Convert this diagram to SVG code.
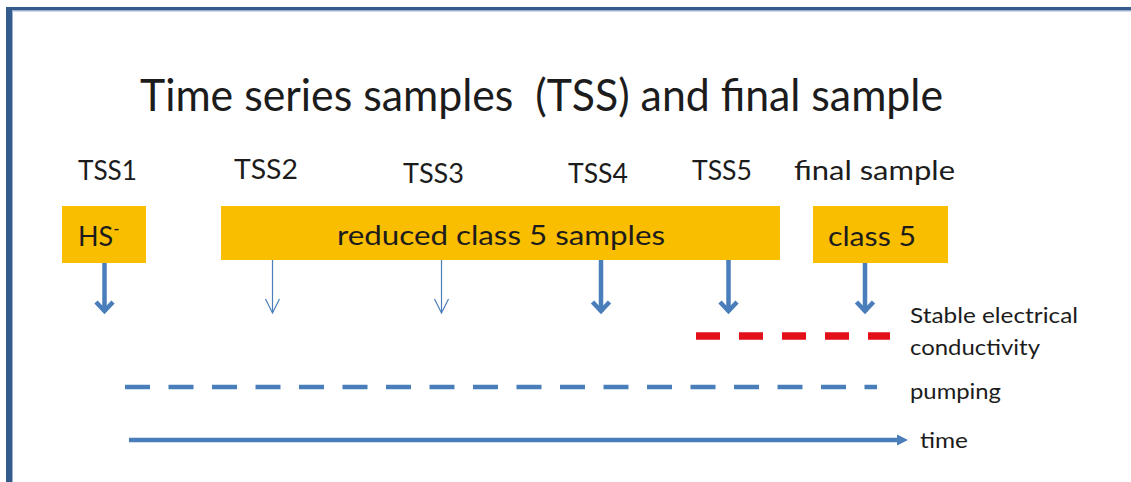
<svg xmlns="http://www.w3.org/2000/svg" width="1131" height="482" viewBox="0 0 1131 482">
  <style>
    .txt { font-family: Lato, "Open Sans", "Liberation Sans", sans-serif; fill: #1c1c1c; }
    .title { font-size: 44px; }
    .lbl { font-size: 27px; }
    .side { font-size: 22px; }
    .box { fill: #f9be00; }
    .thick { stroke: #4a7ebb; stroke-width: 4.5; fill: none; }
    .thin { stroke: #4a7ebb; stroke-width: 1.2; fill: none; }
  </style>
  <defs>
    <marker id="headThick" viewBox="-12 -12 14 24" markerWidth="14" markerHeight="24" refX="0" refY="0" orient="auto" markerUnits="userSpaceOnUse">
      <path d="M-10,-8.5 L-1,0 L-10,8.5" fill="none" stroke="#4a7ebb" stroke-width="4.5"/>
    </marker>
    <marker id="headThin" viewBox="-16 -9 18 18" markerWidth="18" markerHeight="18" refX="0" refY="0" orient="auto" markerUnits="userSpaceOnUse">
      <path d="M-14,-7 L0,0 L-14,7" fill="none" stroke="#4a7ebb" stroke-width="1.2"/>
    </marker>
    <marker id="headSolid" viewBox="0 -6 12 12" markerWidth="12" markerHeight="12" refX="0" refY="0" orient="auto" markerUnits="userSpaceOnUse">
      <path d="M0,-5.5 L11,0 L0,5.5 Z" fill="#4a7ebb"/>
    </marker>
  </defs>

  <rect width="1131" height="482" fill="#ffffff"/>

  <!-- slide frame -->
  <g id="frame">
    <rect x="6" y="7" width="1125" height="3.5" fill="#355b8c"/>
    <rect x="6" y="7" width="6" height="475" fill="#355b8c"/>
    <rect x="12" y="10.5" width="1119" height="1" fill="#9fb3cf"/>
    <rect x="12" y="10.5" width="1" height="472" fill="#9fb3cf"/>
  </g>

  <g id="title">
    <text class="txt title" x="140" y="111" textLength="803" lengthAdjust="spacingAndGlyphs" xml:space="preserve">Time series samples  (TSS) and final sample</text>
  </g>

  <!-- sample labels -->
  <g id="tss1"><text class="txt lbl" x="78" y="180" textLength="59" lengthAdjust="spacingAndGlyphs">TSS1</text></g>
  <g id="tss2"><text class="txt lbl" x="234" y="179" textLength="64" lengthAdjust="spacingAndGlyphs">TSS2</text></g>
  <g id="tss3"><text class="txt lbl" x="403" y="183" textLength="61" lengthAdjust="spacingAndGlyphs">TSS3</text></g>
  <g id="tss4"><text class="txt lbl" x="568" y="183" textLength="60" lengthAdjust="spacingAndGlyphs">TSS4</text></g>
  <g id="tss5"><text class="txt lbl" x="692" y="180" textLength="60" lengthAdjust="spacingAndGlyphs">TSS5</text></g>
  <g id="final-label"><text class="txt lbl" x="794" y="180" textLength="161" lengthAdjust="spacingAndGlyphs">final sample</text></g>

  <!-- sample boxes -->
  <g id="box-hs">
    <rect class="box" x="62" y="206" width="84" height="57"/>
    <text class="txt lbl" x="78" y="246">HS<tspan font-size="17" dy="-11">-</tspan></text>
  </g>
  <g id="box-reduced">
    <rect class="box" x="221" y="206" width="559" height="54"/>
    <text class="txt lbl" x="337" y="245" textLength="328" lengthAdjust="spacingAndGlyphs">reduced class 5 samples</text>
  </g>
  <g id="box-final">
    <rect class="box" x="813" y="206" width="135" height="57"/>
    <text class="txt lbl" x="828" y="246" textLength="88" lengthAdjust="spacingAndGlyphs">class 5</text>
  </g>

  <!-- connectors -->
  <g id="connectors">
    <line class="thick" x1="104.5" y1="263" x2="104.5" y2="312" marker-end="url(#headThick)"/>
    <line class="thin" x1="272.5" y1="260" x2="272.5" y2="313" marker-end="url(#headThin)"/>
    <line class="thin" x1="441.5" y1="260" x2="441.5" y2="313" marker-end="url(#headThin)"/>
    <line class="thick" x1="601" y1="260" x2="601" y2="312" marker-end="url(#headThick)"/>
    <line class="thick" x1="728.5" y1="260" x2="728.5" y2="312" marker-end="url(#headThick)"/>
    <line class="thick" x1="865" y1="263" x2="865" y2="312" marker-end="url(#headThick)"/>

    <line x1="696" y1="336" x2="890" y2="336" stroke="#e3101a" stroke-width="7.5" stroke-dasharray="24 19"/>
    <line x1="125" y1="387" x2="877" y2="387" stroke="#4a7ebb" stroke-width="4.5" stroke-dasharray="25 18.5"/>
    <line x1="129" y1="440" x2="897" y2="440" stroke="#4a7ebb" stroke-width="4.5" marker-end="url(#headSolid)"/>
  </g>

  <!-- legend labels -->
  <g id="legend">
    <text class="txt side" x="910" y="323" textLength="168" lengthAdjust="spacingAndGlyphs">Stable electrical</text>
    <text class="txt side" x="910" y="355" textLength="130" lengthAdjust="spacingAndGlyphs">conductivity</text>
    <text class="txt side" x="910" y="399" textLength="91" lengthAdjust="spacingAndGlyphs">pumping</text>
    <text class="txt side" x="920" y="448" textLength="48" lengthAdjust="spacingAndGlyphs">time</text>
  </g>
</svg>
